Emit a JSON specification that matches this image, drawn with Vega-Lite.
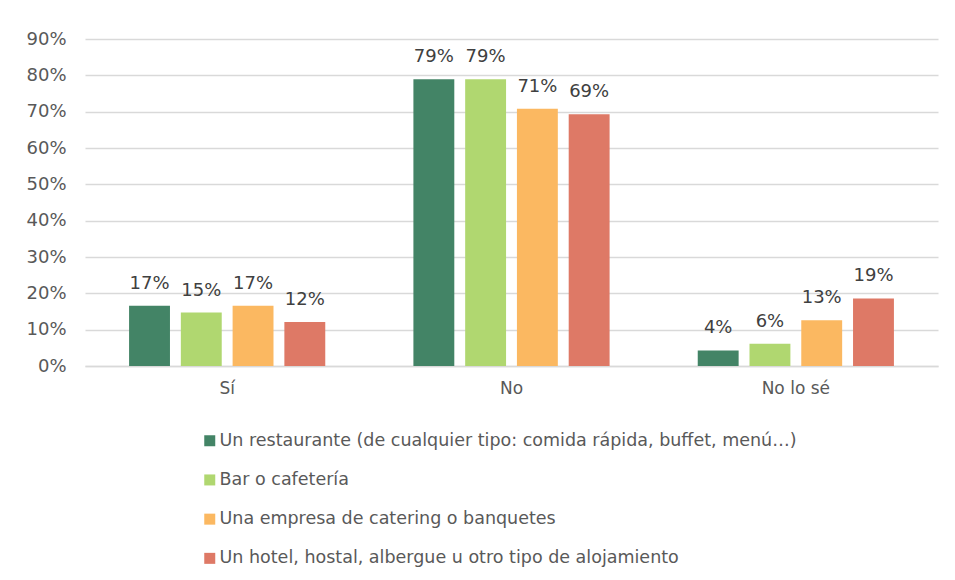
{
  "$schema": "https://vega.github.io/schema/vega-lite/v6.json",
  "autosize": "none",
  "width": 853,
  "height": 327,
  "padding": {"left": 85, "top": 39, "right": 17, "bottom": 214},
  "background": "white",
  "config": {
    "font": "DejaVu Sans",
    "view": {"stroke": null},
    "axis": {"labelColor": "#595959", "labelFont": "DejaVu Sans", "labelFontSize": 18, "titleColor": "#595959"}
  },
  "data": {
    "values": [
      {"respuesta": "Sí", "serie": "Un restaurante (de cualquier tipo: comida rápida, buffet, menú…)", "valor": 0.166},
      {"respuesta": "Sí", "serie": "Bar o cafetería", "valor": 0.147},
      {"respuesta": "Sí", "serie": "Una empresa de catering o banquetes", "valor": 0.166},
      {"respuesta": "Sí", "serie": "Un hotel, hostal, albergue u otro tipo de alojamiento", "valor": 0.121},
      {"respuesta": "No", "serie": "Un restaurante (de cualquier tipo: comida rápida, buffet, menú…)", "valor": 0.789},
      {"respuesta": "No", "serie": "Bar o cafetería", "valor": 0.789},
      {"respuesta": "No", "serie": "Una empresa de catering o banquetes", "valor": 0.708},
      {"respuesta": "No", "serie": "Un hotel, hostal, albergue u otro tipo de alojamiento", "valor": 0.693},
      {"respuesta": "No lo sé", "serie": "Un restaurante (de cualquier tipo: comida rápida, buffet, menú…)", "valor": 0.043},
      {"respuesta": "No lo sé", "serie": "Bar o cafetería", "valor": 0.061},
      {"respuesta": "No lo sé", "serie": "Una empresa de catering o banquetes", "valor": 0.126},
      {"respuesta": "No lo sé", "serie": "Un hotel, hostal, albergue u otro tipo de alojamiento", "valor": 0.186}
    ]
  },
  "encoding": {
    "x": {
      "field": "respuesta", "type": "nominal", "sort": ["Sí", "No", "No lo sé"],
      "scale": {"paddingInner": 0.31, "paddingOuter": 0.155},
      "axis": {"title": null, "labelAngle": 0, "ticks": false, "domainColor": "#d9d9d9", "domainWidth": 1.3, "labelPadding": 14, "labelFontSize": 17}
    },
    "xOffset": {
      "field": "serie", "type": "nominal",
      "sort": ["Un restaurante (de cualquier tipo: comida rápida, buffet, menú…)", "Bar o cafetería", "Una empresa de catering o banquetes", "Un hotel, hostal, albergue u otro tipo de alojamiento"],
      "scale": {"paddingInner": 0.21, "paddingOuter": 0}
    },
    "y": {
      "field": "valor", "type": "quantitative",
      "scale": {"domain": [0, 0.9], "nice": false},
      "axis": {"title": null, "format": ".0%", "values": [0, 0.1, 0.2, 0.3, 0.4, 0.5, 0.6, 0.7, 0.8, 0.9], "labelOverlap": false, "domain": false, "ticks": false, "gridColor": "#d9d9d9", "gridWidth": 1.3, "labelPadding": 19}
    }
  },
  "layer": [
    {
      "mark": {"type": "bar"},
      "encoding": {
        "color": {
          "field": "serie", "type": "nominal",
          "sort": ["Un restaurante (de cualquier tipo: comida rápida, buffet, menú…)", "Bar o cafetería", "Una empresa de catering o banquetes", "Un hotel, hostal, albergue u otro tipo de alojamiento"],
          "scale": {
            "domain": ["Un restaurante (de cualquier tipo: comida rápida, buffet, menú…)", "Bar o cafetería", "Una empresa de catering o banquetes", "Un hotel, hostal, albergue u otro tipo de alojamiento"],
            "range": ["#438466", "#B0D770", "#FBB861", "#DE7966"]
          },
          "legend": {
            "title": null, "orient": "none", "legendX": 116, "legendY": 393, "direction": "vertical",
            "symbolType": "square", "symbolSize": 121, "symbolStrokeWidth": 0, "symbolOpacity": 1,
            "labelFontSize": 17.5, "labelColor": "#595959", "labelFont": "DejaVu Sans", "labelLimit": 800,
            "rowPadding": 20.2, "labelOffset": 1
          }
        }
      }
    },
    {
      "mark": {"type": "text", "baseline": "bottom", "dy": -13, "fontSize": 18, "color": "#404040", "font": "DejaVu Sans"},
      "encoding": {
        "text": {"field": "valor", "type": "quantitative", "format": ".0%"}
      }
    }
  ]
}
